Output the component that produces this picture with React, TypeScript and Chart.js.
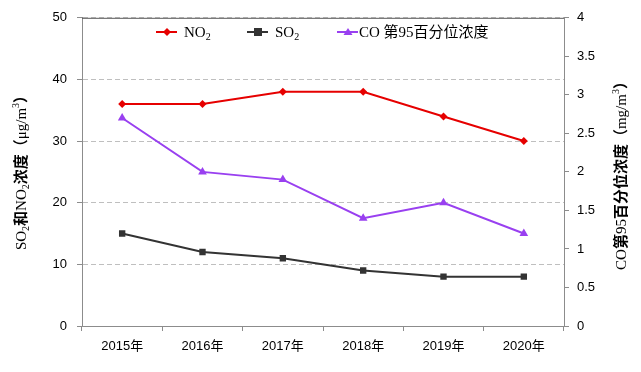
import React, { useEffect, useRef } from "react";
import { Chart, registerables } from "chart.js";

Chart.register(...registerables);

const categories = ["2015年", "2016年", "2017年", "2018年", "2019年", "2020年"];
const no2Values = [36, 36, 38, 38, 34, 30];
const so2Values = [15, 12, 11, 9, 8, 8];
const coValues = [2.7, 2.0, 1.9, 1.4, 1.6, 1.2];

const RED = "#e60000";
const BLACK = "#333333";
const PURPLE = "#9940f0";
const SERIF = "'Liberation Serif', 'Noto Sans CJK SC', serif";
const TICKFONT = "'Liberation Sans', 'Noto Sans CJK SC', sans-serif";

type Piece = { t: string; sub?: boolean; sup?: boolean; bold?: boolean };

function fontFor(p: Piece, size: number, family: string) {
  const s = p.sub || p.sup ? Math.round(size * 0.65) : size;
  return `${p.bold ? "bold " : ""}${s}px ${family}`;
}

function drawPieces(ctx: CanvasRenderingContext2D, pieces: Piece[], x: number, y: number, size: number, family: string, align: "left" | "center") {
  const widths = pieces.map((p) => {
    ctx.font = fontFor(p, size, family);
    return ctx.measureText(p.t).width;
  });
  const total = widths.reduce((a, b) => a + b, 0);
  let cx = align === "center" ? x - total / 2 : x;
  pieces.forEach((p, i) => {
    ctx.font = fontFor(p, size, family);
    const dy = p.sub ? size * 0.28 : p.sup ? -size * 0.35 : 0;
    ctx.fillText(p.t, cx, y + dy);
    cx += widths[i];
  });
}

const overlayPlugin = {
  id: "overlay",
  afterDraw(chart: any) {
    const ctx: CanvasRenderingContext2D = chart.ctx;
    const { left, right, top } = chart.chartArea;
    ctx.save();
    // top frame line
    ctx.strokeStyle = "#595959";
    ctx.lineWidth = 1;
    ctx.beginPath();
    ctx.moveTo(left, top + 0.5);
    ctx.lineTo(right, top + 0.5);
    ctx.stroke();

    // axis titles
    ctx.fillStyle = "#000";
    ctx.textBaseline = "middle";
    ctx.save();
    ctx.translate(22, 169);
    ctx.rotate(-Math.PI / 2);
    drawPieces(ctx, [
      { t: "SO" }, { t: "2", sub: true }, { t: "和", bold: true }, { t: "NO" }, { t: "2", sub: true }, { t: "浓度（", bold: true }, { t: "μg/m" }, { t: "3", sup: true }, { t: "）", bold: true },
    ], 0, 0, 15, SERIF, "center");
    ctx.restore();
    ctx.save();
    ctx.translate(622, 172);
    ctx.rotate(-Math.PI / 2);
    drawPieces(ctx, [
      { t: "CO" }, { t: "第", bold: true }, { t: "95" }, { t: "百分位浓度（", bold: true }, { t: "mg/m" }, { t: "3", sup: true }, { t: "）", bold: true },
    ], 0, 0, 15, SERIF, "center");
    ctx.restore();

    // legend
    const ly = 32;
    const items = [
      { x: 156, color: RED, style: "diamond", pieces: [{ t: "NO" }, { t: "2", sub: true }] as Piece[] },
      { x: 247, color: BLACK, style: "square", pieces: [{ t: "SO" }, { t: "2", sub: true }] as Piece[] },
      { x: 337, color: PURPLE, style: "triangle", pieces: [{ t: "CO 第95百分位浓度" }] as Piece[] },
    ];
    items.forEach((it) => {
      ctx.strokeStyle = it.color;
      ctx.fillStyle = it.color;
      ctx.lineWidth = 2;
      ctx.beginPath();
      ctx.moveTo(it.x, ly);
      ctx.lineTo(it.x + 21, ly);
      ctx.stroke();
      const mx = it.x + 11;
      ctx.beginPath();
      if (it.style === "diamond") {
        ctx.moveTo(mx, ly - 4); ctx.lineTo(mx + 4, ly); ctx.lineTo(mx, ly + 4); ctx.lineTo(mx - 4, ly);
      } else if (it.style === "square") {
        ctx.rect(mx - 4, ly - 4, 8, 8);
      } else {
        ctx.moveTo(mx, ly - 4); ctx.lineTo(mx + 4.5, ly + 3); ctx.lineTo(mx - 4.5, ly + 3);
      }
      ctx.closePath();
      ctx.fill();
      ctx.fillStyle = "#000";
      const tx = it.style === "triangle" ? it.x + 22 : it.x + 28;
      drawPieces(ctx, it.pieces, tx, ly + 1, 15, SERIF, "left");
    });
    ctx.restore();
  },
};

export default function App() {
  const ref = useRef<HTMLCanvasElement>(null);
  useEffect(() => {
    document.body.style.margin = "0";
    const chart = new Chart(ref.current!, {
      type: "line",
      data: {
        labels: categories,
        datasets: [
          { label: "NO2", data: no2Values, yAxisID: "y", borderColor: RED, backgroundColor: RED, borderWidth: 2, pointStyle: "rectRot", pointRadius: 4, pointBorderWidth: 0 },
          { label: "SO2", data: so2Values, yAxisID: "y", borderColor: BLACK, backgroundColor: BLACK, borderWidth: 2, pointStyle: "rect", pointRadius: 4.5, pointBorderWidth: 0 },
          { label: "CO 第95百分位浓度", data: coValues, yAxisID: "y1", borderColor: PURPLE, backgroundColor: PURPLE, borderWidth: 2, pointStyle: "triangle", pointRadius: 5, pointBorderWidth: 0 },
        ],
      },
      options: {
        animation: false,
        responsive: false,
        layout: { padding: { top: 15, left: 0, right: 0, bottom: 0 } },
        plugins: { legend: { display: false }, tooltip: { enabled: false } },
        scales: {
          x: {
            offset: true,
            grid: { offset: true, drawOnChartArea: false, drawTicks: true, tickLength: 5, color: "#8c8c8c" },
            border: { color: "#8c8c8c" },
            ticks: { color: "#000", font: { family: TICKFONT, size: 13 }, padding: 8, maxRotation: 0 },
            afterFit: (s: any) => { s.height = 46; },
          },
          y: {
            position: "left",
            min: 0,
            max: 50,
            ticks: { stepSize: 10, color: "#000", font: { family: TICKFONT, size: 13 }, padding: 10 },
            grid: { color: "#bfbfbf", tickLength: 5, tickColor: "#8c8c8c", tickBorderDash: [] },
            border: { color: "#8c8c8c", dash: [5, 3] },
            afterFit: (s: any) => { s.width = 82; },
          },
          y1: {
            position: "right",
            min: 0,
            max: 4,
            ticks: { stepSize: 0.5, color: "#000", font: { family: TICKFONT, size: 13 }, padding: 8, callback: (v: any) => String(Number(v)) },
            grid: { drawOnChartArea: false, tickLength: 5, color: "#8c8c8c" },
            border: { color: "#8c8c8c" },
            afterFit: (s: any) => { s.width = 77; },
          },
        },
      },
      plugins: [overlayPlugin],
    } as any);
    return () => chart.destroy();
  }, []);
  return <canvas ref={ref} width={641} height={372} style={{ display: "block" }} />;
}
